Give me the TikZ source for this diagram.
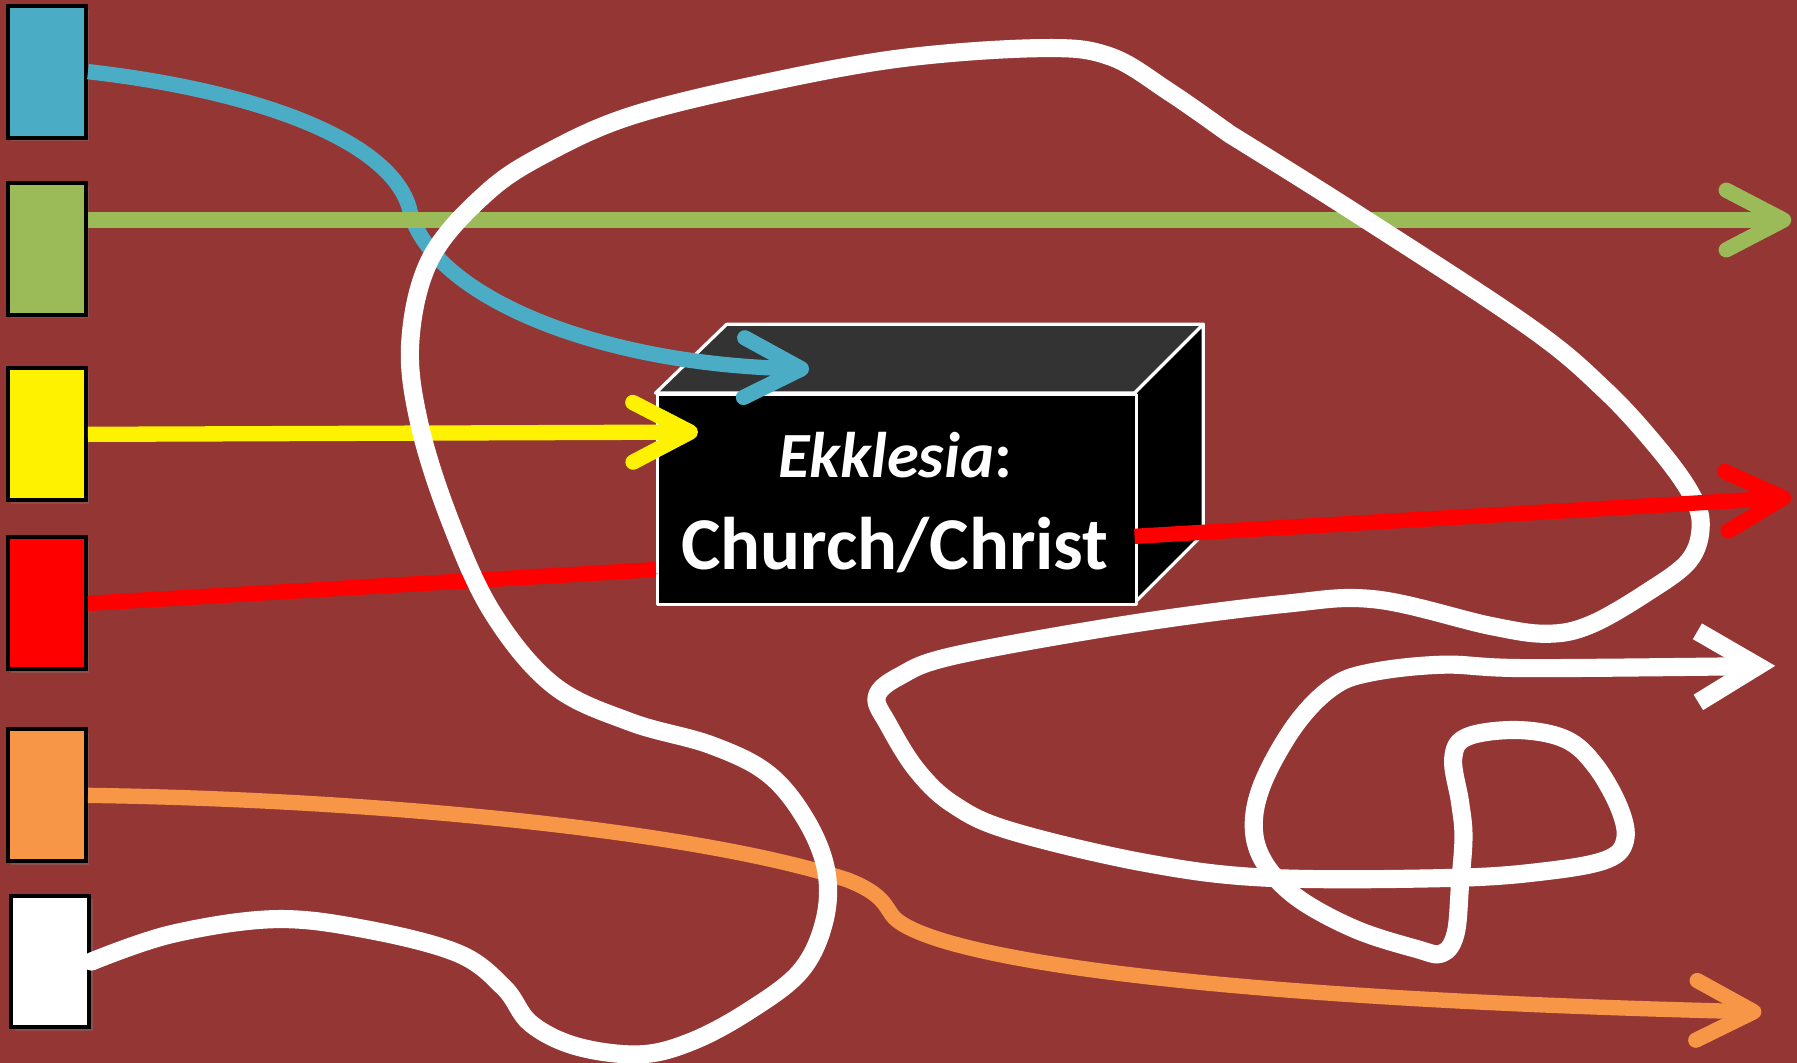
\documentclass[tikz,border=0pt]{standalone}
\usepackage{fontspec}
\setmainfont{Carlito}
\usetikzlibrary{arrows.meta,shadows}
\definecolor{bg}{RGB}{148,54,52}
\definecolor{cblue}{RGB}{75,172,198}
\definecolor{cgreen}{RGB}{155,187,89}
\definecolor{corange}{RGB}{247,150,70}
\definecolor{topgray}{RGB}{51,51,51}
\begin{document}
\begin{tikzpicture}[x=0.01cm,y=-0.01cm,
  sq/.style={draw=black, line width=1pt, minimum width=0.68cm, minimum height=1.15cm, inner sep=0pt,
    drop shadow={shadow xshift=0.03cm, shadow yshift=-0.03cm, opacity=0.35}},
  ln/.style={line width=3.8pt, preaction={draw=black, opacity=0.25, transform canvas={shift={(0.02cm,-0.035cm)}}}},
  wl/.style={line width=4.5pt, white, line join=round, line cap=round, preaction={draw=black, opacity=0.25, transform canvas={shift={(0.02cm,-0.035cm)}}}},
  tipr/.style={-{Straight Barb[length=0.5cm,width=0.52cm,round]}},
  tipw/.style={-{Straight Barb[length=0.52cm,width=0.62cm]}},
  edge/.style={draw=white, line width=0.8pt, line join=round},
  lbl/.style={anchor=base, text=white, inner sep=0pt}
]
\useasboundingbox (0,0) rectangle (1568,927.5);
\fill[bg] (0,0) rectangle (1568,927.5);

% colour boxes
\node[sq, fill=cblue]   (bl) at (41,62.5) {};
\node[sq, fill=cgreen]  (gr) at (41,217) {};
\node[sq, fill=yellow]  (ye) at (41,379) {};
\node[sq, fill=red]     (rd) at (41,526.5) {};
\node[sq, fill=corange] (or) at (41,694) {};
\node[sq, fill=white]   (wh) at (44,839) {};

% cube
\filldraw[fill=topgray, edge] (572,343) -- (634,283) -- (1050,283) -- (990,343) -- cycle;
\filldraw[fill=black, edge] (990,343) -- (1050,283) -- (1050,466) -- (990,526) -- cycle;
\node[edge, fill=black, minimum width=4.18cm, minimum height=1.83cm, inner sep=0pt, anchor=north west] (front) at (572,343) {};
\node[lbl, font=\fontsize{16}{19}\selectfont\bfseries] (t1) at (781,417) {\textit{Ekklesia}:};
\node[lbl, font=\fontsize{18.5}{22}\selectfont\bfseries] (t2) at (781,497) {Church/Christ};

% free ends
\coordinate (bt) at (706,322);
\coordinate (gt) at (1563,192);
\coordinate (yt) at (609,377);
\coordinate (rl) at (572,497);
\coordinate (rs) at (990,468);
\coordinate (rt) at (1563,434);
\coordinate (ot) at (1537,883);
\coordinate (wk) at (1073,117);
\coordinate (wt) at (1549,581);

% connectors
\draw[ln, cblue, tipr] (bl.east) .. controls (230,80) and (345,125) .. (358,185)
      .. controls (378,258) and (520,318) .. (bt);
\draw[ln, cgreen, tipr] (gr.east |- gt) -- (gt);
\draw[ln, yellow, tipr] (ye.east) -- (yt);
\draw[ln, corange, tipr] (or.east) .. controls (350,698) and (620,728) .. (740,768)
      .. controls (768,779) and (772,789) .. (778,798)
      .. controls (800,830) and (1000,870) .. (ot);
\draw[ln, red] (rd.east) -- (rl);
\draw[wl, tipw] plot[smooth, tension=0.6] coordinates {(wh.east) (150,815) (240,802) (320,811)
   (400,832) (440,862) (463,893) (503,913) (558,920) (603,909) (652,883) (698,848)
   (719,805) (721,760) (703,715) (670,675) (620,650) (550,630) (483,598) (430,535) (393,455)
   (366,370) (358,298) (376,225) (426,167) (480,132) (551,101) (660,74)
   (785,51) (908,42) (968,49) (1020,80) (wk)}
  plot[smooth, tension=0.6] coordinates {(wk) (1183,186) (1334,285) (1400,340) (1446,390)
   (1475,430) (1484,458) (1474,489) (1437,517) (1388,545) (1350,553) (1300,546) (1200,523)
   (1120,527) (983,545) (833,572) (785,590) (765,608) (775,632) (800,672) (832,702) (882,725)
   (1000,753) (1108,766) (1268,766) (1350,760) (1402,750) (1418,733) (1413,705) (1392,668)
   (1366,645) (1324,637) (1280,643) (1268,662) (1274,700) (1277,730) (1274,772) (1270,815)
   (1258,832) (1236,828) (1183,811) (1133,784) (1104,754) (1094,722) (1102,683) (1130,633)
   (1162,600) (1195,587) (1259,580) (1334,583) (wt)};
\draw[ln, red, tipr] (rs) -- (rt);
\end{tikzpicture}
\end{document}
